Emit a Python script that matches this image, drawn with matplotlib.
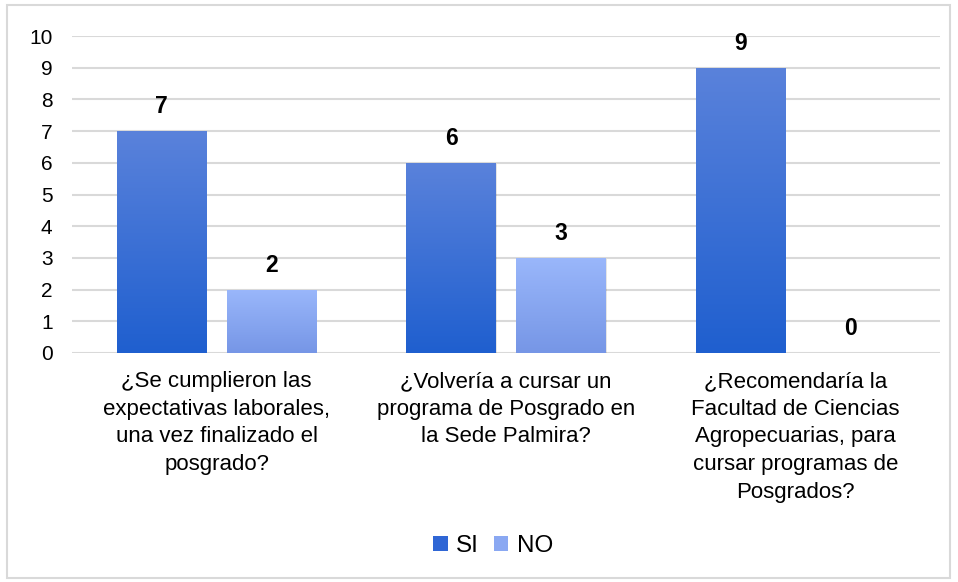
import matplotlib
matplotlib.use("Agg")
import matplotlib.pyplot as plt
import numpy as np
from matplotlib.patches import Rectangle, Patch
from matplotlib.colors import LinearSegmentedColormap

plt.rcParams['font.family'] = ['Liberation Sans', 'DejaVu Sans']

categories = [
    "¿Se cumplieron las\nexpectativas laborales,\nuna vez finalizado el\nposgrado?",
    "¿Volvería a cursar un\nprograma de Posgrado en\nla Sede Palmira?",
    "¿Recomendaría la\nFacultad de Ciencias\nAgropecuarias, para\ncursar programas de\nPosgrados?",
]
series_names = ["SI", "NO"]
si_values = [7, 6, 9]
no_values = [2, 3, 0]
y_ticks = list(range(0, 11))

W, H = 958, 582
fig = plt.figure(figsize=(W / 100, H / 100), dpi=100)
ax = fig.add_axes([72 / W, 1 - 353 / H, (940 - 72) / W, (353 - 36) / H])

# figure border
fig.patches.append(Rectangle((7 / W, 1 - 578 / H), (950 - 7) / W, (578 - 5) / H,
                             transform=fig.transFigure, fill=False,
                             edgecolor="#d9d9d9", linewidth=1.5))

x = np.arange(len(categories))
bw = 0.308
off = 0.19

grad_si = LinearSegmentedColormap.from_list("si", ["#1f5fcf", "#5a82db"])
grad_no = LinearSegmentedColormap.from_list("no", ["#7696e6", "#9ab7fb"])

def grad_bars(xs, vals, cmap):
    bars = ax.bar(xs, vals, width=bw, color="none", edgecolor="none", zorder=3)
    for b, v in zip(bars, vals):
        if v <= 0:
            continue
        x0 = b.get_x()
        # subtle shadow
        ax.add_patch(Rectangle((x0 + 0.004, 0), bw, v - 0.03, facecolor="#000000",
                               alpha=0.10, edgecolor="none", zorder=2))
        g = np.linspace(0, 1, 256).reshape(-1, 1)
        im = ax.imshow(g, cmap=cmap, origin="lower", aspect="auto",
                       extent=[x0, x0 + bw, 0, v], zorder=3)
        im.set_clip_path(b)
    return bars

grad_bars(x - off, si_values, grad_si)
grad_bars(x + off, no_values, grad_no)

for xi, v in zip(x - off, si_values):
    ax.text(xi, v + 0.4, str(v), ha="center", va="bottom", fontsize=16.5,
            fontweight="bold", zorder=5)
for xi, v in zip(x + off, no_values):
    ax.text(xi, v + 0.4, str(v), ha="center", va="bottom", fontsize=16.5,
            fontweight="bold", zorder=5)

ax.set_xlim(-0.5, 2.5)
ax.set_ylim(0, 10)
ax.set_yticks(y_ticks)
ax.set_yticklabels([str(t) for t in y_ticks], fontsize=15)
ax.set_xticks(x)
ax.set_xticklabels(categories, fontsize=16, linespacing=1.42)
ax.tick_params(axis="both", length=0)
ax.tick_params(axis="x", pad=13)
ax.tick_params(axis="y", pad=14)
ax.grid(axis="y", color="#d9d9d9", linewidth=1.5, zorder=0)
ax.set_axisbelow(True)
for s in ax.spines.values():
    s.set_visible(False)

handles = [Patch(facecolor="#2f66d5"), Patch(facecolor="#8aa8f2")]
fig.legend(handles, series_names, loc="center", bbox_to_anchor=(493 / W, 1 - 546 / H),
           ncol=2, frameon=False, fontsize=17.5, handlelength=0.6, handleheight=0.6,
           handletextpad=0.35, columnspacing=0.6)

fig.savefig("out.png", dpi=100)
